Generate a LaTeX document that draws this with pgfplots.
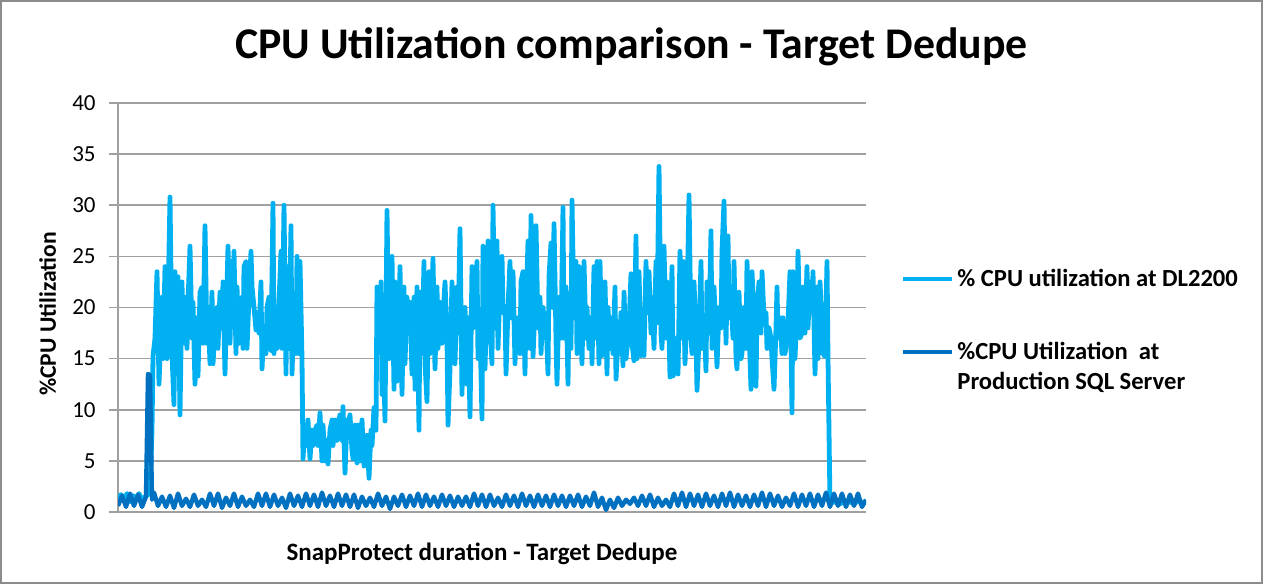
\documentclass[border=0pt]{standalone}
\usepackage{pgfplots}
\pgfplotsset{compat=1.18}
\usepackage{fontspec}
\setmainfont{Carlito}
\definecolor{lightcpu}{HTML}{00B0F0}
\definecolor{darkcpu}{HTML}{0070C0}
\definecolor{gridc}{HTML}{A0A0A0}
\definecolor{framec}{HTML}{8C8C8C}

\pgfplotstableread{
x y
118 1.4
121 1.7
124 1.2
127 1.8
130 1.0
133 1.6
136 1.3
139 1.8
142 1.1
145 1.5
148 1.7
150 2.0
152 8
153 15.2
155 17
157 23.5
159 12.5
162 21
163 15
165 24
167 15
170 30.8
172 15.5
174 10.5
175 23.5
177 13.5
178 23
180 9.5
182 22.5
183 16.5
185 21
187 16
188 20.5
190 26
192 17
193 20.5
195 12.5
197 19
198 13.3
200 21.5
202 22
203 16.5
205 28
207 16.5
208 20
210 14.5
212 21.5
213 14.5
215 18
217 20
218 16
220 21.5
222 18
223 22.5
225 13.5
227 22
228 26
230 16.5
232 24.5
233 19
234 25.5
236 15.5
237 22
239 16.5
242 21
243 16
244 24
246 24.5
247 16
249 21
251 25.5
252 22
254 20
256 17.8
257 19.5
259 17.5
261 22.5
262 14
264 18
266 15.5
267 20
269 21
271 15.8
273 30.2
274 15.5
276 20
277 16
279 20.5
281 25.5
282 16
284 30
286 13.5
287 24
289 16
291 28
292 13.5
294 20
296 15.5
297 25
299 15.5
300 24.5
302 15
303 5.2
305 8.5
307 6.5
308 9
310 5.2
312 8
313 6.5
315 8
317 8.5
318 6.5
320 9.7
322 5
323 8.5
325 5
327 7
328 4.7
330 8
332 9
333 6.5
335 9
337 7
338 8.5
340 9.5
342 7
343 10.3
345 3.8
347 9
348 8.5
350 9.5
352 6
353 5.2
355 8.5
357 4.8
358 8.5
360 5
362 9
364 4.5
366 6
367 7.5
369 3.3
371 8
372 6.5
374 10.2
376 8
377 22
379 16
381 22.5
382 11.5
383 17.5
385 8.9
387 29.5
389 15
390 20
392 25
394 12
395 22.5
397 12.8
399 18
400 24
402 11.5
404 22
405 14.5
407 21
409 18.5
410 20.5
412 13.5
414 21
415 12
417 22
419 8
420 21.5
422 15.5
424 24.5
425 14.5
427 10.8
429 23.5
430 15.5
432 21
433 24.8
435 14
437 22
438 16
440 20.5
442 16.5
443 19
445 22.5
447 17
448 8.5
450 14
452 22.5
453 19
455 14.5
457 22
458 17.5
460 27.7
462 11.5
463 18.5
465 20
467 12.5
468 19
470 9.3
472 24
473 18
475 21
477 24.5
478 15
480 18
482 9.1
483 26
485 14
487 21.5
488 26.5
490 18
492 14.5
493 30
495 18
497 26.5
498 16
500 22
502 25
503 19.5
505 20
506 13.5
508 20
510 24.5
511 19
513 23.5
515 14.5
516 18
518 19
520 15.5
521 22.5
523 23.5
525 13.5
526 20
528 26.5
530 16
531 29
533 15.2
535 20
536 28
538 18
540 21
541 15.5
543 20
545 18
546 19
548 13.5
549 23
551 26.3
553 20
554 28.2
556 17
557 12.5
559 21
561 17
563 29.8
564 17
566 22
568 12.5
569 20
571 16
572 30.5
574 19
576 24.5
577 15.5
579 24
581 17
582 14.5
584 24.5
586 17
587 20
589 16
591 19
592 14.5
594 24
596 17
597 24.5
599 14.5
600 24.5
602 15.3
603 20
605 22.5
607 13.5
608 20
610 16
612 19
613 15.5
615 22
616 13
618 17
619 15.5
621 19.5
623 14.3
624 21.5
626 15
627 16
629 18
631 23.3
632 16.5
634 14.8
636 27
637 15
639 23.5
641 15.3
642 19.5
644 15.3
646 24.5
647 19.5
649 23.5
651 17.5
652 21
654 16
656 24.5
657 18.5
659 33.8
661 17.5
662 16
664 26
666 17
667 22.5
669 17.5
670 13.2
672 24
673 13.3
675 14
677 17
678 13.5
680 25.5
682 17
683 24.5
685 14.5
687 20
689 31
691 17
692 15.5
694 22.5
696 17
697 11.9
699 17
701 24.5
702 16
704 19
706 13.8
707 22.5
709 17.5
711 27.5
712 16
714 22
716 17
717 14.2
719 20
721 18
722 25.5
724 30.4
726 16.5
728 27
729 19
731 21
733 17
734 24.5
736 15
737 14
739 21.5
741 15
742 15.5
744 20
746 16
747 24.5
749 18
751 12
752 23.5
754 19
756 12.3
757 20
759 22.5
761 17.5
762 23.5
764 19
766 19.5
767 16
769 18
771 17
772 15
774 12
776 18
777 22
778 17
780 19
782 15.5
783 19
785 15.5
787 17
788 18.5
790 23.5
792 9.7
793 23.5
795 15
797 20
798 25.5
800 17
802 17.5
803 22
805 17.5
807 24
808 18
810 22.5
812 19.5
813 23.5
815 13.5
817 22
818 15
820 22.5
822 18
823 15.5
825 15.2
827 24.5
828 15
830 0.8
834 1.0
840 0.8
846 1.1
852 0.9
858 1.0
866 0.9
}\lighttable

\pgfplotstableread{
x y
118 0.6
122 1.6
126 0.5
130 1.8
134 0.6
138 1.7
142 0.5
146 1.5
148 13.5
150 13.4
152 1.2
154 1.9
158 0.6
162 1.5
166 0.5
170 1.6
174 0.4
178 1.8
182 0.6
186 1.3
190 0.5
194 1.7
198 0.6
202 1.2
206 0.5
210 1.8
214 0.6
218 1.8
222 0.4
226 1.4
230 0.6
234 1.8
238 0.5
242 1.5
246 0.6
250 1.2
254 0.5
258 1.8
262 0.6
266 1.8
270 0.5
274 1.7
278 0.6
282 1.4
286 0.4
290 1.8
294 0.6
298 1.6
302 0.5
306 1.8
310 0.6
314 1.7
318 0.5
322 1.9
326 0.6
330 1.6
334 0.5
338 1.8
342 0.6
346 1.7
350 0.5
354 1.7
358 0.4
362 1.5
366 0.6
370 1.4
374 0.5
378 1.8
382 0.6
386 1.5
390 0.3
394 1.5
398 0.6
402 1.7
406 0.5
410 1.6
414 0.6
418 1.8
422 0.5
426 1.7
430 0.6
434 1.5
438 0.5
442 1.7
446 0.6
450 1.6
454 0.5
458 1.5
462 0.6
466 1.5
470 0.5
474 1.8
478 0.6
482 1.7
486 0.5
490 1.7
494 0.6
498 1.4
502 0.5
506 1.7
510 0.6
514 1.6
518 0.5
522 1.8
526 0.6
530 1.6
534 0.5
538 1.7
542 0.6
546 1.6
550 0.5
554 1.7
558 0.6
562 1.6
566 0.5
570 1.6
574 0.6
578 1.7
582 0.5
586 1.5
590 0.6
594 1.9
598 0.5
602 1.4
606 0.2
610 1.2
614 0.4
618 1.4
622 0.6
626 1.2
630 0.8
634 1.4
638 0.6
642 1.6
646 0.6
650 1.7
654 0.5
658 1.4
662 0.6
666 1.2
670 0.5
674 1.8
678 0.6
682 1.9
686 0.5
690 1.8
694 0.6
698 1.7
702 0.5
706 1.8
710 0.6
714 1.6
718 0.5
722 1.8
726 0.6
730 1.9
734 0.5
738 1.7
742 0.6
746 1.6
750 0.5
754 1.7
758 0.6
762 1.9
766 0.5
770 1.8
774 0.6
778 1.6
782 0.5
786 1.4
790 0.6
794 1.8
798 0.5
802 1.7
806 0.6
810 1.8
814 0.5
818 1.7
822 0.6
826 1.9
830 0.5
834 1.8
838 0.6
842 1.8
846 0.5
850 1.7
854 0.6
858 1.8
862 0.5
866 1.2
}\darktable

\begin{document}
\begin{tikzpicture}
\draw[framec, line width=1pt] (0.5pt,0.5pt) rectangle (631pt,291.5pt);
\begin{axis}[
  at={(59pt,36pt)}, anchor=south west,
  scale only axis, width=374pt, height=204.5pt,
  xmin=118, xmax=866, ymin=0, ymax=40,
  xtick=\empty,
  ytick={0,5,...,40},
  axis lines=left,
  axis line style={-, gridc, line width=0.75pt},
  ymajorgrids,
  grid style={gridc, line width=0.75pt},
  tick align=outside,
  major tick length=4.5pt,
  ytick style={gridc, line width=0.75pt},
  /pgf/number format/assume math mode=true,
  yticklabel style={font=\fontsize{11.5}{13}\selectfont, inner sep=0pt, xshift=-6.5pt},
  clip=true,
  title={CPU Utilization comparison - Target Dedupe},
  title style={at={(0.6865,1.1125)}, anchor=base, yshift=-7pt, font=\bfseries\fontsize{21.9}{24}\selectfont, inner sep=0pt},
  xlabel={SnapProtect duration - Target Dedupe},
  xlabel style={at={(0.4866,-0.1174)}, anchor=base, font=\bfseries\fontsize{12.5}{14}\selectfont, inner sep=0pt},
  ylabel={\%CPU Utilization},
  ylabel style={at={(-0.0829,0.484)}, anchor=base, font=\bfseries\fontsize{11.8}{14}\selectfont, inner sep=0pt},
  legend style={draw=none, fill=none, inner sep=0pt, at={(1.0468,0.5697)}, anchor=west,
    font=\bfseries\fontsize{12.3}{14}\selectfont, nodes={inner sep=1.5pt}},
  legend cell align=left,
  legend image code/.code={\draw[#1, line width=2pt] (0pt,0pt) -- (24.5pt,0pt);},
]
\addplot[lightcpu, line width=2.4pt, line join=round] table[x=x,y=y] {\lighttable};
\addlegendentry{\% CPU utilization at DL2200}
\addplot[darkcpu, line width=2.2pt, line join=round, forget plot] table[x=x,y=y] {\darktable};
\end{axis}
\begin{axis}[
  at={(59pt,36pt)}, anchor=south west,
  scale only axis, width=374pt, height=204.5pt,
  xmin=118, xmax=866, ymin=0, ymax=40,
  hide axis,
  legend style={draw=none, fill=none, inner sep=0pt, at={(1.0468,0.3545)}, anchor=west,
    font=\bfseries\fontsize{12.3}{14}\selectfont, nodes={inner sep=1.5pt}, row sep=2pt},
  legend cell align=left,
  legend image code/.code={\draw[#1, line width=2pt] (0pt,0pt) -- (24.5pt,0pt);},
]
\addlegendimage{darkcpu}
\addlegendentry{\%CPU Utilization~~at}
\addlegendimage{empty legend}
\addlegendentry{Production SQL Server}
\end{axis}
\end{tikzpicture}
\end{document}
